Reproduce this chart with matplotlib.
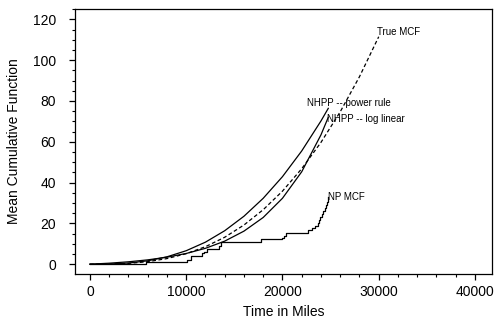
import matplotlib
matplotlib.use("Agg")
import matplotlib.pyplot as plt
from matplotlib.ticker import MultipleLocator

plt.rcParams["font.family"] = ["Liberation Sans", "DejaVu Sans"]

# ---------------------------------------------------------------------------
# data
# ---------------------------------------------------------------------------
miles = [0, 2000, 4000, 6000, 8000, 10000, 12000, 14000, 16000, 18000,
         20000, 22000, 24000, 24760]
power_rule = [0, 0.09, 0.56, 1.66, 3.61, 6.6, 10.8, 16.4, 23.5, 32.3,
              42.9, 55.5, 70.2, 76.4]
log_linear = [0, 0.49, 1.17, 2.12, 3.43, 5.25, 7.78, 11.3, 16.2, 22.9,
              32.3, 45.3, 63.4, 72.0]

true_miles = [0, 2000, 4000, 6000, 8000, 10000, 12000, 14000, 16000, 18000,
              20000, 22000, 24000, 26000, 28000, 30000]
true_mcf = [0, 0.06, 0.39, 1.23, 2.75, 5.14, 8.57, 13.2, 19.2, 26.7,
            35.8, 46.8, 59.7, 74.7, 91.9, 111.5]

np_miles = [0, 5800, 10050, 10500, 11650, 11800, 12200, 13450, 13650,
            17800, 19950, 20150, 20400, 22650, 23100, 23400, 23650, 23800,
            23950, 24100, 24250, 24400, 24500, 24600, 24700, 24760]
np_mcf = [0, 1.0, 2.0, 4.0, 5.5, 6.2, 7.3, 9.0, 11.1,
          12.2, 13.0, 14.0, 15.4, 16.8, 17.5, 18.5, 20.0, 21.5,
          23.0, 24.5, 26.0, 27.5, 29.0, 30.5, 32.0, 33.1]

labels = ["True MCF", "NHPP -- power rule", "NHPP -- log linear", "NP MCF"]
label_x = [29800, 22500, 24600, 24700]
label_y = [114, 79, 71, 33]

# ---------------------------------------------------------------------------
# plot
# ---------------------------------------------------------------------------
fig = plt.figure(figsize=(4.96, 3.28), dpi=100)
ax = fig.add_axes([0.151, 0.165, 0.841, 0.807])

ax.plot(miles, power_rule, color="black", lw=0.9)
ax.plot(miles, log_linear, color="black", lw=0.9)
ax.plot(true_miles, true_mcf, color="black", lw=0.9, ls=(0, (3, 2)))
ax.plot(np_miles, np_mcf, color="black", lw=0.9, drawstyle="steps-post")

for txt, x, y in zip(labels, label_x, label_y):
    ax.text(x, y, txt, fontsize=7, va="center", ha="left")

ax.set_xlim(-1560, 41770)
ax.set_ylim(-4.75, 125)
ax.xaxis.set_major_locator(MultipleLocator(10000))
ax.xaxis.set_minor_locator(MultipleLocator(2000))
ax.yaxis.set_major_locator(MultipleLocator(20))
ax.yaxis.set_minor_locator(MultipleLocator(5))
ax.tick_params(which="major", direction="out", length=4.5, width=0.9, labelsize=10)
ax.tick_params(which="minor", direction="out", length=2.2, width=0.8)
ax.tick_params(axis="y", which="major", pad=9)
for s in ax.spines.values():
    s.set_linewidth(0.9)

ax.set_xlabel("Time in Miles", fontsize=10)
ax.set_ylabel("Mean Cumulative Function", fontsize=10, labelpad=8.5)

fig.savefig("out.png", dpi=100)
